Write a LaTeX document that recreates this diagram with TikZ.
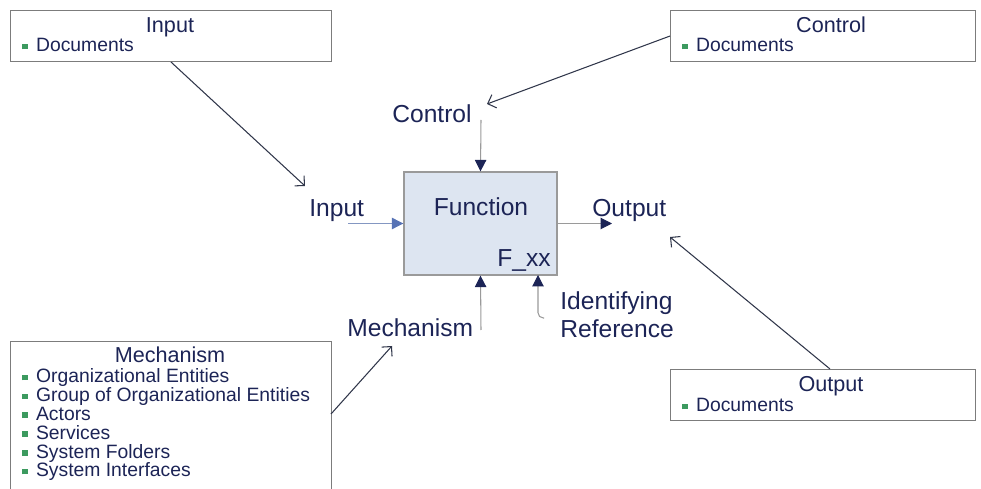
\documentclass[tikz,border=0pt]{standalone}
\usepackage{fontspec}
\setmainfont{Liberation Sans}
\usepackage{tikz}
\usetikzlibrary{arrows.meta,positioning}

\definecolor{navy}{HTML}{1C2456}
\definecolor{boxgray}{HTML}{7C7C7C}
\definecolor{stemgray}{HTML}{9A9A9A}
\definecolor{pointer}{HTML}{30364A}
\definecolor{funcfill}{HTML}{DDE5F1}
\definecolor{inline}{HTML}{8497C2}
\definecolor{intip}{HTML}{5773B5}
\definecolor{bulletgreen}{HTML}{3C9A5F}

% small green square in front of list entries
\newcommand{\sqbullet}{\textcolor{bulletgreen}{\rule[0.25ex]{0.55ex}{0.55ex}}\hspace{0.42em}}

\begin{document}
\begin{tikzpicture}[x=0.02cm, y=-0.02cm,
  every node/.style={text=navy, inner sep=0pt},
  lbl/.style={font=\fontsize{14}{16}\selectfont, anchor=base west},
  infobox/.style={draw=boxgray, line width=0.6pt, anchor=north west, minimum height=1.02cm},
  boxtitle/.style={font=\fontsize{12.3}{14}\selectfont, anchor=base},
  entry/.style={font=\fontsize{11}{13}\selectfont, anchor=base west},
  feed/.style={draw=pointer, line width=0.6pt, -{Straight Barb[length=4pt,width=8pt]}},
  stem/.style={draw=stemgray, line width=0.6pt, -{Triangle[length=6.5pt,width=6.5pt,color=navy]}}]
  \useasboundingbox (0,0) rectangle (981,489);
  \clip (0,0) rectangle (981,489);

  % corner boxes
  \node (inbox) [infobox, minimum width=6.42cm] at (10,10) {};
  \node (intitle) [boxtitle] at (170,33) {Input};
  \node (indoc) [entry] at (22,52) {\sqbullet Documents};

  \node (ctrlbox) [infobox, minimum width=6.1cm] at (670,10) {};
  \node (ctrltitle) [boxtitle] at (831,33) {Control};
  \node (ctrldoc) [entry] at (682,52) {\sqbullet Documents};

  \node (outbox) [infobox, minimum width=6.1cm] at (670,369) {};
  \node (outtitle) [boxtitle] at (831,392) {Output};
  \node (outdoc) [entry] at (682,412) {\sqbullet Documents};

  \node (mechbox) [infobox, minimum width=6.42cm, minimum height=3.4cm] at (10,341) {};
  \node (mechtitle) [boxtitle] at (170,363) {Mechanism};
  \foreach \txt [count=\k] in {Organizational Entities, Group of Organizational Entities,
      Actors, Services, System Folders, System Interfaces}
    \node (mech\k) [entry] at (22,383+18.8*\k-18.8) {\sqbullet \txt};

  % function box
  \node (func) [draw=stemgray, line width=0.8pt, fill=funcfill, minimum width=3.06cm,
    minimum height=2.06cm] at (480.5,223.5) {};
  \node (functxt) [font=\fontsize{14}{16}\selectfont, anchor=base] at (481,216) {Function};
  \node (fid) [lbl] at (497,267) {F\_xx};

  \node (ctrllbl) [lbl] at (392,123) {Control};
  \node (inlbl) [lbl] at (309,217) {Input};
  \node (outlbl) [lbl] at (592,217) {Output};
  \node (mechlbl) [lbl] at (347,337) {Mechanism};
  \node (idlbl) [lbl] at (560,310) {Identifying};
  \node (idlbl2) [lbl] at (560,338) {Reference};

  % loose ends
  \coordinate (ctrlfrom) at (481,120);
  \coordinate (infrom) at (348,223.5);
  \coordinate (outto) at (612,223.5);
  \coordinate (mechfrom) at (481,330);
  \coordinate (idfrom) at (544,318);
  \coordinate (idto) at (538,275);
  \coordinate (inpoint) at (305,186);
  \coordinate (ctrlpoint) at (487,104);
  \coordinate (outstart) at (830,369);
  \coordinate (outpoint) at (670,237);
  \coordinate (mechstart) at (331,414);
  \coordinate (mechpoint) at (392,346);

  \draw[stem] (ctrlfrom) -- (func.north);
  \draw[draw=inline, line width=0.6pt, -{Triangle[length=6.5pt,width=6.5pt,color=intip]}] (infrom) -- (func.west);
  \draw[stem] (func.east) -- (outto);
  \draw[stem] (mechfrom) -- (func.south);
  \draw[stem, rounded corners=3pt] (idfrom) -| (idto);

  \draw[feed] (inbox.south) -- (inpoint);
  \draw[feed] (ctrlbox.west) -- (ctrlpoint);
  \draw[feed] (outstart) -- (outpoint);
  \draw[feed] (mechstart) -- (mechpoint);
\end{tikzpicture}
\end{document}
